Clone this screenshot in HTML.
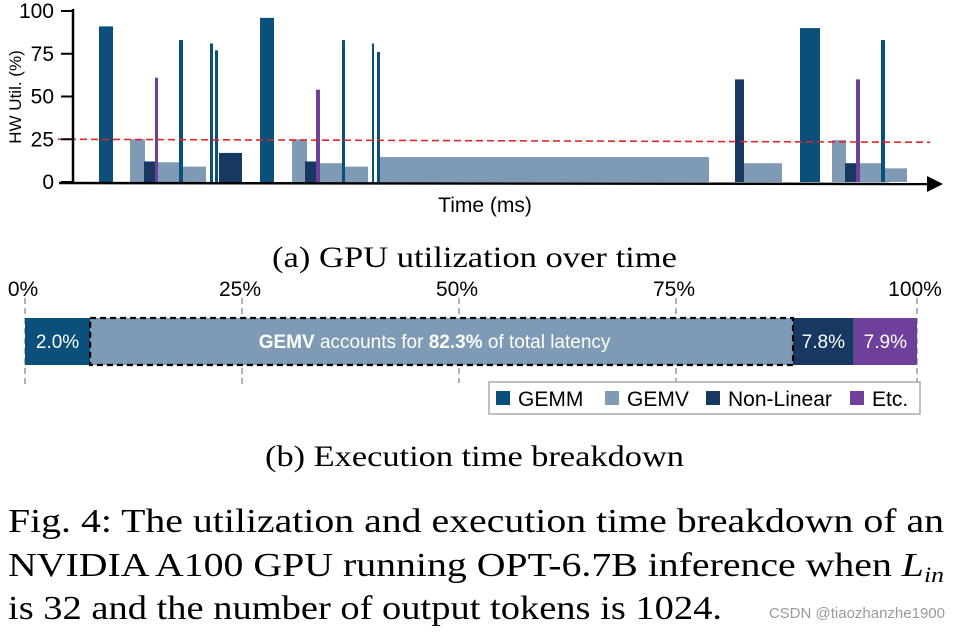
<!DOCTYPE html>
<html><head><meta charset="utf-8"><style>
html,body{margin:0;padding:0;background:#fff;}
svg{display:block;}
</style></head><body>
<svg id="fig" width="962" height="632" viewBox="0 0 962 632" xmlns="http://www.w3.org/2000/svg">
<g id="util"></g>
<g id="brk"></g>
<text x="272" y="267" textLength="405" lengthAdjust="spacingAndGlyphs" font-family="'Liberation Serif', serif" font-size="30">(a) GPU utilization over time</text>
<text x="265" y="466" textLength="419" lengthAdjust="spacingAndGlyphs" font-family="'Liberation Serif', serif" font-size="30">(b) Execution time breakdown</text>
<g font-family="'Liberation Serif', serif" font-size="34">
<text x="8" y="532" textLength="936" lengthAdjust="spacingAndGlyphs">Fig. 4: The utilization and execution time breakdown of an</text>
<text x="8" y="576" textLength="936" lengthAdjust="spacingAndGlyphs">NVIDIA A100 GPU running OPT-6.7B inference when <tspan font-style="italic">L</tspan><tspan font-style="italic" font-size="22" dy="6">in</tspan></text>
<text x="8" y="619" textLength="714" lengthAdjust="spacingAndGlyphs">is 32 and the number of output tokens is 1024.</text>
</g>
<text x="945" y="618" text-anchor="end" font-family="'Liberation Sans', sans-serif" font-size="15" fill="#9a9a9a">CSDN @tiaozhanzhe1900</text>
</svg>
<script>
// Utilization chart data: kind, start time, end time, utilization %
const kinds = ['GEMM','GEMV','NL','GEMV','ETC','GEMV','GEMM','GEMV','GEMM','GEMM','NL','GEMM','GEMV','NL','ETC','GEMV','GEMM','GEMV','GEMM','GEMM','GEMV','NL','GEMV','GEMM','GEMV','NL','ETC','GEMV','GEMM','GEMV'];
const starts = [26,57,71,85,82,85,106,110,137,142,146,187,219,232,243,247,269,272,299,304,307,662,671,727,759,772,783,787,808,812];
const ends   = [40,72,82,106,85,106,110,133,140,145,169,201,234,243,247,269,272,295,301,307,636,671,709,747,773,783,787,808,812,834];
const utils  = [91,25,12,11.5,61,11.5,83,9,81,77,17,96,25,12,54,11,83,9,81,76,14.6,60,11,90,24.5,11,60,11,83,8];
const yTicks = [0,25,50,75,100];
const threshold = 25;

// Breakdown data
const segNames = ['GEMM','GEMV','NL','ETC'];
const segShares = [7.3,78.8,6.8,7.1];
const segLabels = ['2.0%','','7.8%','7.9%'];
const pctTicks = [0,25,50,75,100];

const NS='http://www.w3.org/2000/svg';
const colors={GEMM:'#0b4f7b',GEMV:'#7f9ab4',NL:'#163861',ETC:'#6f3f9c'};
function mk(tag,attrs,parent){const e=document.createElementNS(NS,tag);for(const k in attrs)e.setAttribute(k,attrs[k]);parent.appendChild(e);return e;}
const SANS="'Liberation Sans', sans-serif";

const U=document.getElementById('util');
const x0=73, y0=182, yTop=11;
const xs=t=>x0+t;
const ys=v=>y0-(v/100)*(y0-yTop);
for(let i=0;i<kinds.length;i++){
  const r=mk('rect',{x:xs(starts[i]),y:ys(utils[i]),width:xs(ends[i])-xs(starts[i]),height:y0-ys(utils[i]),fill:colors[kinds[i]]},U);
  
  
}
const th=mk('line',{x1:58,y1:ys(threshold),x2:930,y2:ys(threshold)+3,stroke:'#e0262b','stroke-width':1.6,'stroke-dasharray':'7,4'},U);


const ya=mk('line',{x1:x0,y1:9,x2:x0,y2:y0+1,stroke:'#000','stroke-width':2.5},U);


const xa=mk('line',{x1:59,y1:y0+1,x2:930,y2:y0+2,stroke:'#000','stroke-width':2.5},U);


const ar=mk('polygon',{points:'927,176 943,184 927,192',fill:'#000'},U);


yTicks.forEach(v=>{
  const tk=mk('line',{x1:61,y1:ys(v),x2:x0,y2:ys(v),stroke:'#000','stroke-width':2},U);
  
  
  const t=mk('text',{x:54,y:ys(v)+7,'text-anchor':'end','font-family':SANS,'font-size':21},U);
  t.textContent=v;
  
  
});
const yt=mk('text',{x:0,y:0,transform:'translate(21,97) rotate(-90)','text-anchor':'middle','font-family':SANS,'font-size':17},U);
yt.textContent='HW Util. (%)';


const xt=mk('text',{x:485,y:212,'text-anchor':'middle','font-family':SANS,'font-size':21},U);
xt.textContent='Time (ms)';



// Breakdown
const B=document.getElementById('brk');
const bx0=25,bx1=917,by0=318,by1=365;
const px=p=>bx0+p/100*(bx1-bx0);
const tx=p=>p>=100?917:25+p*8.68;
pctTicks.forEach(p=>{
  const l=mk('line',{x1:tx(p),y1:298,x2:tx(p),y2:(p>=50?383:388),stroke:'#aaa','stroke-width':1.8,'stroke-dasharray':'6,4'},B);
  
  
  const t=mk('text',{x:tx(p)-2,y:296,'text-anchor':'middle','font-family':SANS,'font-size':21},B);
  t.textContent=p+'%';
  
  
});
let acc=0;
const segPos=[];
segShares.forEach((s,i)=>{
  const r=mk('rect',{x:px(acc),y:by0,width:px(acc+s)-px(acc),height:by1-by0,fill:colors[segNames[i]]},B);
  
  
  segPos.push([px(acc),px(acc+s)]);
  if(segLabels[i]){
    const t=mk('text',{x:(px(acc)+px(acc+s))/2,y:348,'text-anchor':'middle','font-family':SANS,'font-size':19,fill:'#fff'},B);
    t.textContent=segLabels[i];
    
    
  }
  acc+=s;
});
const hb=mk('rect',{x:segPos[1][0],y:by0,width:segPos[1][1]-segPos[1][0],height:by1-by0,fill:'none',stroke:'#000','stroke-width':2.2,'stroke-dasharray':'6,4'},B);


const gt=mk('text',{x:(segPos[1][0]+segPos[1][1])/2-7,y:348,'text-anchor':'middle','font-family':SANS,'font-size':19,fill:'#fff'},B);
gt.innerHTML='<tspan font-weight="bold">GEMV</tspan> accounts for <tspan font-weight="bold">82.3%</tspan> of total latency';



// Legend
const lg=mk('g',{},B);


const lb=mk('rect',{x:489,y:382,width:431,height:32,fill:'#fff',stroke:'#aaa','stroke-width':1.5},lg);


const legNames=['GEMM','GEMV','Non-Linear','Etc.'];
const legX=[496,605,706,850];
legNames.forEach((n,i)=>{
  const s=mk('rect',{x:legX[i],y:391,width:14,height:14,fill:colors[segNames[i]]},lg);
  
  
  const t=mk('text',{x:legX[i]+22,y:406,'font-family':SANS,'font-size':21},lg);
  t.textContent=n;
  
  
});
</script>
</body></html>
